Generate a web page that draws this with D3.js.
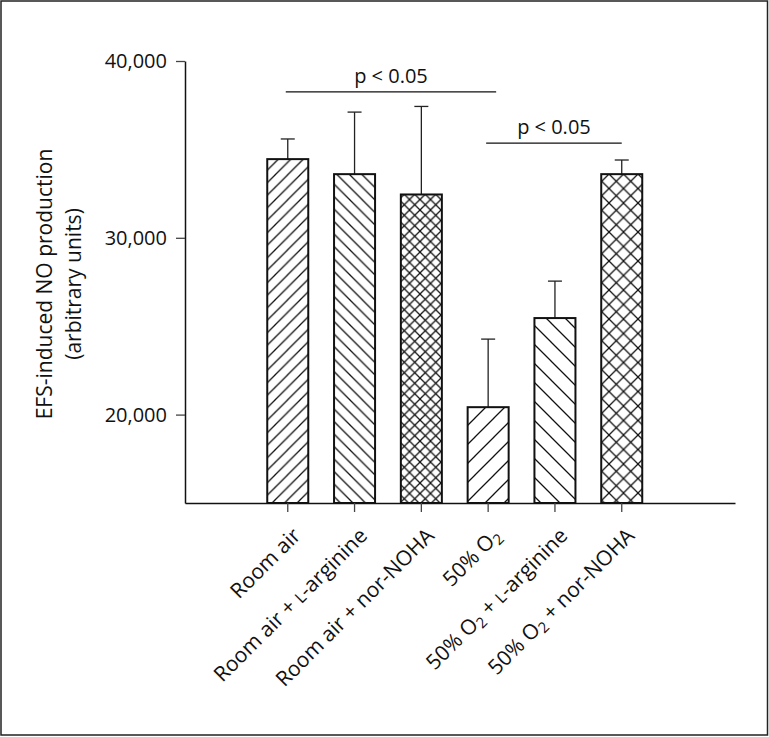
<!DOCTYPE html>
<html>
<head>
<meta charset="utf-8">
<script src="https://cdn.jsdelivr.net/npm/d3@7"></script>
<style>
  body { margin: 0; background: #fff; }
  text { font-family: "Open Sans", sans-serif; fill: #111; }
</style>
</head>
<body>
<script>
const w = 769;
const h = 737;

// data
const categories = ["ra", "raArg", "raNoha", "o2", "o2Arg", "o2Noha"];
const means = [34450, 33600, 32450, 20420, 25460, 33600];
const errors = [1140, 3510, 4980, 3850, 2090, 800];
const yTicks = [20000, 30000, 40000];
// label pieces: [text, kind]  kind: n = normal, sc = small-cap L, sub = subscript
const labels = [
    [["Room air", "n"]],
    [["Room air + ", "n"], ["L", "sc"], ["-arginine", "n"]],
    [["Room air + nor-NOHA", "n"]],
    [["50% O", "n"], ["2", "sub"]],
    [["50% O", "n"], ["2", "sub"], [" + ", "n"], ["L", "sc"], ["-arginine", "n"]],
    [["50% O", "n"], ["2", "sub"], [" + nor-NOHA", "n"]]
];
const sigPairs = [[0, 3, 38250], [3, 5, 35350]];
const sigText = "p < 0.05";

// hatch styles per bar: type, spacing
const hatches = [
    { type: "fwd", size: 12.5 },
    { type: "back", size: 12.5 },
    { type: "cross", size: 10.5 },
    { type: "fwd", size: 19 },
    { type: "back", size: 19 },
    { type: "cross", size: 14.5 }
];

const svg = d3.select('body').append('svg')
    .attr('width', w)
    .attr('height', h);

svg.append('rect')
    .attr('x', 1).attr('y', 1)
    .attr('width', w - 2.5).attr('height', h - 3)
    .attr('fill', 'none').attr('stroke', '#222').attr('stroke-width', 1.5);

const defs = svg.append('defs');
hatches.forEach((p, i) => {
    const s = p.size;
    const pat = defs.append('pattern')
        .attr('id', 'hatch' + i)
        .attr('patternUnits', 'userSpaceOnUse')
        .attr('width', s).attr('height', s);
    pat.append('rect').attr('width', s).attr('height', s).attr('fill', '#fff');
    const g = pat.append('g').attr('stroke', '#111').attr('stroke-width', 1.3);
    if (p.type === 'fwd' || p.type === 'cross') {
        g.append('path').attr('d', `M-1,${s + 1}L${s + 1},-1M${-s / 2},${s / 2}L${s / 2},${-s / 2}M${s / 2},${s * 1.5}L${s * 1.5},${s / 2}`);
    }
    if (p.type === 'back' || p.type === 'cross') {
        g.append('path').attr('d', `M-1,-1L${s + 1},${s + 1}M${s / 2},${-s / 2}L${s * 1.5},${s / 2}M${-s / 2},${s / 2}L${s / 2},${s * 1.5}`);
    }
});

const x = d3.scaleBand()
    .domain(categories)
    .range([185, 735])
    .paddingInner(0.386)
    .paddingOuter(1.31)
    .align(0.47);

const y = d3.scaleLinear()
    .domain([15000, 40000])
    .range([503, 61]);

// y axis
const yAxis = svg.append('g')
    .attr('transform', 'translate(185,0)')
    .call(d3.axisLeft(y).tickValues(yTicks).tickFormat(d3.format(',')).tickSize(9).tickSizeOuter(0).tickPadding(9));
yAxis.select('.domain').attr('stroke', '#111').attr('stroke-width', 1.5);
yAxis.selectAll('.tick line').attr('stroke', '#444').attr('stroke-width', 1.3);
yAxis.selectAll('.tick text').attr('font-size', 20).attr('font-family', '"Open Sans", sans-serif').attr('fill', '#111');

const cx = (i) => x(categories[i]) + x.bandwidth() / 2;

// error bars (drawn before bars so stems start at the top edge)
const eb = svg.append('g').attr('stroke', '#222').attr('stroke-width', 1.3);
categories.forEach((c, i) => {
    eb.append('line')
        .attr('x1', cx(i)).attr('x2', cx(i))
        .attr('y1', y(means[i])).attr('y2', y(means[i] + errors[i]));
    eb.append('line')
        .attr('x1', cx(i) - 7).attr('x2', cx(i) + 7)
        .attr('y1', y(means[i] + errors[i])).attr('y2', y(means[i] + errors[i]));
});

// bars
svg.selectAll('rect.bar')
    .data(means)
    .enter()
    .append('rect')
        .attr('class', 'bar')
        .attr('x', (d, i) => x(categories[i]))
        .attr('y', d => y(d))
        .attr('width', x.bandwidth())
        .attr('height', d => y(15000) - y(d))
        .attr('fill', (d, i) => `url(#hatch${i})`)
        .attr('stroke', '#111')
        .attr('stroke-width', 2);

// x axis
const xAxis = svg.append('g')
    .attr('transform', 'translate(0,503)')
    .call(d3.axisBottom(x).tickSize(9).tickSizeOuter(0).tickFormat(''));
xAxis.select('.domain').attr('stroke', '#111').attr('stroke-width', 1.5);
xAxis.selectAll('.tick line').attr('stroke', '#444').attr('stroke-width', 1.3);

// x labels
labels.forEach((parts, i) => {
    const t = svg.append('text')
        .attr('transform', `translate(${cx(i) + 14},537) rotate(-45)`)
        .attr('text-anchor', 'end')
        .attr('font-size', 21);
    let shifted = false;
    parts.forEach(([s, kind]) => {
        const ts = t.append('tspan').text(s);
        if (kind === 'sc') ts.attr('font-size', 16);
        if (kind === 'sub') { ts.attr('font-size', 15).attr('dy', 4); shifted = true; }
        else if (shifted) { ts.attr('dy', -4); shifted = false; }
    });
});

// y label
svg.append('text')
    .attr('transform', 'translate(52,284) rotate(-90)')
    .attr('text-anchor', 'middle')
    .attr('font-size', 21)
    .text('EFS-induced NO production');
svg.append('text')
    .attr('transform', 'translate(81,284) rotate(-90)')
    .attr('text-anchor', 'middle')
    .attr('font-size', 21)
    .text('(arbitrary units)');

// significance
sigPairs.forEach(([a, b, v]) => {
    const x1 = cx(a) - 2, x2 = cx(b) + (b === 5 ? 0 : 8);
    svg.append('line')
        .attr('x1', x1).attr('x2', x2)
        .attr('y1', y(v)).attr('y2', y(v))
        .attr('stroke', '#111').attr('stroke-width', 1.3);
    svg.append('text')
        .attr('x', (x1 + x2) / 2)
        .attr('y', y(v) - 9)
        .attr('text-anchor', 'middle')
        .attr('font-size', 20)
        .text(sigText);
});
</script>
</body>
</html>
